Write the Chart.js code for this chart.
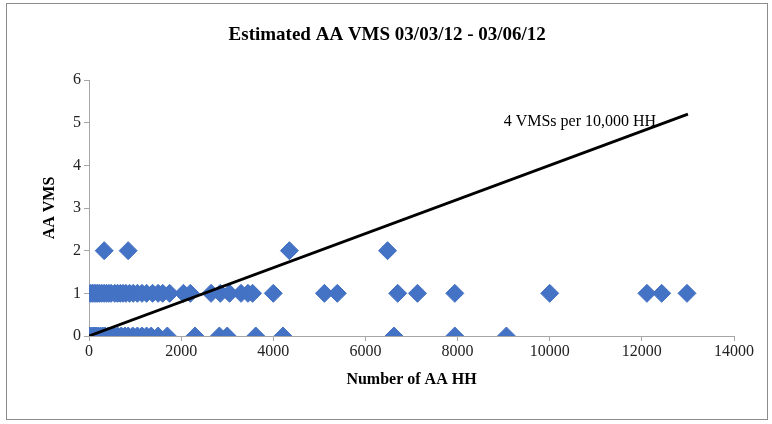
<!DOCTYPE html>
<html>
<head>
<meta charset="utf-8">
<script src="https://cdn.jsdelivr.net/npm/chart.js@4.4.0/dist/chart.umd.min.js"></script>
<style>
html,body{margin:0;padding:0;background:#fff;}
canvas{display:block;}
</style>
</head>
<body>
<canvas id="c" width="772" height="424"></canvas>
<script>
const titleText = "Estimated AA VMS 03/03/12 - 03/06/12";
const xTitle = "Number of AA HH";
const yTitle = "AA VMS";
const lineLabel = "4 VMSs per 10,000 HH";

const hhAt2 = [330, 850, 4350, 6480];
const hhAt1 = [30, 70, 110, 150, 190, 230, 280, 330, 380, 430, 480, 560, 620, 680, 740, 800, 880, 960, 1050, 1150, 1250, 1380, 1500, 1600, 1750, 2050, 2200, 2650, 2850, 3050, 3300, 3450, 3550, 4000, 5110, 5390, 6700, 7130, 7940, 10000, 12110, 12430, 12980];
const hhAt0 = [0, 30, 70, 110, 150, 200, 250, 300, 350, 420, 480, 550, 620, 700, 780, 850, 950, 1050, 1150, 1250, 1350, 1500, 1700, 2300, 2830, 3000, 3620, 4210, 6620, 7940, 9060];

const lineX = [0, 13000];
const lineY = [0, 5.2];
const labelPos = {x: 9000, y: 5.03};

const points = [];
hhAt2.forEach(v => points.push({x: v, y: 2}));
hhAt1.forEach(v => points.push({x: v, y: 1}));
hhAt0.forEach(v => points.push({x: v, y: 0}));

const frame = {
  id: 'frame',
  beforeDraw(chart) {
    const ctx = chart.ctx;
    ctx.save();
    ctx.fillStyle = '#fff';
    ctx.fillRect(0, 0, chart.width, chart.height);
    ctx.strokeStyle = '#8c8c8c';
    ctx.lineWidth = 1;
    ctx.strokeRect(6.5, 3.5, 761, 416);
    ctx.restore();
  },
  afterDatasetsDraw(chart) {
    const ctx = chart.ctx;
    const xs = chart.scales.x, ys = chart.scales.y;
    ctx.save();
    ctx.fillStyle = '#000';
    ctx.font = '16px "Liberation Serif", "Times New Roman", serif';
    ctx.textAlign = 'left';
    ctx.textBaseline = 'middle';
    ctx.fillText(lineLabel, xs.getPixelForValue(labelPos.x), ys.getPixelForValue(labelPos.y));
    ctx.restore();
  }
};

const serif = '"Liberation Serif", "Times New Roman", serif';

new Chart(document.getElementById('c'), {
  type: 'scatter',
  data: {
    datasets: [
      {
        type: 'line',
        data: lineX.map((x, i) => ({x: x, y: lineY[i]})),
        borderColor: '#000',
        borderWidth: 2.8,
        pointRadius: 0,
        fill: false,
        order: 0
      },
      {
        data: points,
        pointStyle: 'rectRot',
        pointRadius: 9,
        pointHoverRadius: 9,
        backgroundColor: '#4472C4',
        borderColor: '#4472C4',
        borderWidth: 1,
        order: 1
      }
    ]
  },
  options: {
    responsive: false,
    animation: false,
    layout: {padding: {left: 40.4, right: 38, top: 0, bottom: 34.4}},
    plugins: {
      legend: {display: false},
      tooltip: {enabled: false},
      title: {
        display: true,
        text: titleText,
        color: '#000',
        font: {family: serif, size: 19, weight: 'bold'},
        padding: {top: 23.6, bottom: 33.6}
      }
    },
    scales: {
      x: {
        type: 'linear',
        min: 0, max: 14000,
        ticks: {stepSize: 2000, color: '#222', font: {family: serif, size: 16}, padding: 1, maxRotation: 0,
          callback: v => String(v)},
        grid: {display: true, drawOnChartArea: false, drawTicks: true, tickLength: 5, color: '#a6a6a6'},
        border: {display: true, color: '#a6a6a6', width: 1},
        title: {display: true, text: xTitle, color: '#000', font: {family: serif, size: 16, weight: 'bold'}, padding: 0},
        afterFit(s) { s.height = 53.6; }
      },
      y: {
        type: 'linear',
        min: 0, max: 6,
        ticks: {stepSize: 1, color: '#222', font: {family: serif, size: 16}, padding: 3,
          callback: v => String(v)},
        grid: {display: true, drawOnChartArea: false, drawTicks: true, tickLength: 5, color: '#a6a6a6'},
        border: {display: true, color: '#a6a6a6', width: 1},
        title: {display: true, text: yTitle, color: '#000', font: {family: serif, size: 16, weight: 'bold'}, padding: 0},
        afterFit(s) { s.width = 48.6; }
      }
    }
  },
  plugins: [frame]
});
</script>
</body>
</html>
